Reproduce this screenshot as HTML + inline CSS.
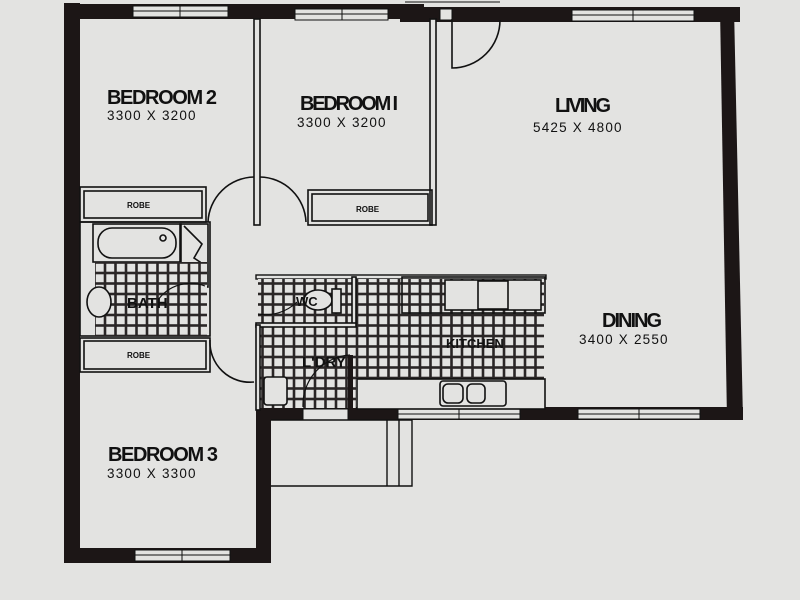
<!DOCTYPE html>
<html><head><meta charset="utf-8"><style>
html,body{margin:0;padding:0;background:#e3e3e1;}
svg{display:block}
.lb{font-family:"Liberation Sans",sans-serif;font-weight:bold;font-stretch:condensed;fill:#111;}
.dm{font-family:"Liberation Sans",sans-serif;fill:#111;font-size:13.5px;letter-spacing:1.2px}
.sm{font-family:"Liberation Sans",sans-serif;font-weight:bold;fill:#111;font-size:8px}
</style></head><body>
<svg width="800" height="600" viewBox="0 0 800 600">
<defs>
<pattern id="tile" x="0" y="0" width="10.5" height="10.5" patternUnits="userSpaceOnUse">
<rect width="10.5" height="10.5" fill="#2a2626"/>
<rect x="1.3" y="1.3" width="7.9" height="7.9" fill="#e3e3e1"/>
</pattern>
</defs>
<rect width="800" height="600" fill="#e3e3e1"/>
<g fill="#1c1616">
<rect x="64" y="3" width="16" height="560"/>
<rect x="64" y="4" width="360" height="15"/>
<rect x="400" y="7" width="340" height="15"/>
<polygon points="720,8 734,8 743,420 727,420"/>
<rect x="350" y="407" width="393" height="13"/>
<rect x="256" y="407" width="100" height="13"/>
<rect x="256" y="407" width="15" height="156"/>
<rect x="64" y="548" width="207" height="15"/>
</g>
<g fill="#e3e3e1" stroke="#111" stroke-width="1">
<rect x="133" y="6" width="95" height="11"/>
<rect x="295" y="9" width="93" height="11"/>
<rect x="440" y="9" width="12" height="11"/>
<rect x="572" y="10" width="122" height="11"/>
<rect x="135" y="550" width="95" height="11"/>
<rect x="303" y="409" width="45" height="11"/>
<rect x="398" y="409" width="122" height="10"/>
<rect x="578" y="409" width="122" height="10"/>
</g>
<g stroke="#111" stroke-width="1">
<line x1="133" y1="11" x2="228" y2="11"/><line x1="180" y1="6" x2="180" y2="17"/>
<line x1="295" y1="14" x2="388" y2="14"/><line x1="342" y1="9" x2="342" y2="20"/>
<line x1="572" y1="15" x2="694" y2="15"/><line x1="633" y1="10" x2="633" y2="21"/>
<line x1="135" y1="555" x2="230" y2="555"/><line x1="182" y1="550" x2="182" y2="561"/>
<line x1="398" y1="414" x2="520" y2="414"/><line x1="459" y1="409" x2="459" y2="419"/>
<line x1="578" y1="414" x2="700" y2="414"/><line x1="639" y1="409" x2="639" y2="419"/>
<line x1="405" y1="2" x2="500" y2="2"/>
</g>
<g fill="none" stroke="#111" stroke-width="1.6">
<rect x="254" y="19" width="6" height="206" fill="#e3e3e1"/>
<rect x="430" y="19" width="6" height="206" fill="#e3e3e1"/>
<rect x="80" y="187" width="126" height="35"/>
<rect x="84" y="191" width="118" height="27"/>
<rect x="308" y="190" width="124" height="35"/>
<rect x="312" y="194" width="116" height="27"/>
<path d="M208 222 A47 47 0 0 1 254 177"/>
<path d="M260 177 A47 47 0 0 1 306 222"/>
<path d="M452 19 V68 A48 48 0 0 0 500 20"/>
<rect x="80" y="222" width="130" height="114"/>
<rect x="93" y="224" width="88" height="38"/>
<rect x="98" y="228" width="78" height="30" rx="14"/>
<circle cx="163" cy="238" r="3"/>
<rect x="180" y="224" width="28" height="63"/>
<path d="M184 226 L202 244 L194 258 L200 262 L186 285"/>
<rect x="80" y="338" width="130" height="34"/>
<rect x="84" y="341" width="122" height="28"/>
<path d="M210 340 A40 40 0 0 0 254 382"/>
</g>
<rect x="95" y="262" width="112" height="74" fill="url(#tile)"/>
<ellipse cx="99" cy="302" rx="12" ry="15" fill="#e3e3e1" stroke="#111" stroke-width="1.6"/>
<path d="M158 300 A40 40 0 0 1 205 286" fill="none" stroke="#111" stroke-width="1.2"/>
<rect x="256" y="275" width="290" height="4" fill="#e3e3e1" stroke="#111" stroke-width="1.4"/>
<rect x="258" y="279" width="286" height="100" fill="url(#tile)"/>
<rect x="258" y="379" width="98" height="29" fill="url(#tile)"/>
<g fill="#e3e3e1" stroke="#111" stroke-width="1.6">
<rect x="352" y="277" width="4" height="48"/>
<rect x="256" y="323" width="100" height="4"/>
<rect x="256" y="325" width="4" height="85"/>
<rect x="402" y="277" width="143" height="36" fill="none"/>
<rect x="445" y="280" width="96" height="30"/>
<rect x="478" y="281" width="30" height="28"/>
<ellipse cx="318" cy="300" rx="14" ry="10"/>
<rect x="332" y="289" width="9" height="24"/>
<rect x="357" y="379" width="188" height="30"/>
<rect x="440" y="381" width="66" height="25" rx="3"/>
<rect x="443" y="384" width="20" height="19" rx="5"/>
<rect x="467" y="384" width="18" height="19" rx="5"/>
<rect x="264" y="377" width="23" height="28" rx="3"/>
</g>
<path d="M297 302 A45 45 0 0 1 258 314" fill="none" stroke="#111" stroke-width="1.2"/>
<path d="M350 355 A50 50 0 0 0 303 407" fill="none" stroke="#111" stroke-width="1.2"/>
<rect x="348" y="355" width="5" height="53" fill="#1c1616"/>
<g fill="none" stroke="#111" stroke-width="1.4">
<path d="M271 420 H412 V486 H271"/>
<line x1="387" y1="420" x2="387" y2="486"/>
<line x1="399" y1="420" x2="399" y2="486"/>
</g>
<text class="lb" x="107" y="104" font-size="20" textLength="110">BEDROOM 2</text>
<text class="dm" x="107" y="120">3300 X 3200</text>
<text class="lb" x="300" y="110" font-size="20" textLength="98">BEDROOM I</text>
<text class="dm" x="297" y="127">3300 X 3200</text>
<text class="lb" x="555" y="112" font-size="20" textLength="56">LIVING</text>
<text class="dm" x="533" y="132">5425 X 4800</text>
<text class="lb" x="602" y="327" font-size="20" textLength="60">DINING</text>
<text class="dm" x="579" y="344">3400 X 2550</text>
<text class="lb" x="108" y="461" font-size="20" textLength="110">BEDROOM 3</text>
<text class="dm" x="107" y="478">3300 X 3300</text>
<text class="sm" x="127" y="208">ROBE</text>
<text class="sm" x="356" y="212">ROBE</text>
<text class="sm" x="127" y="358">ROBE</text>
<text class="lb" x="127" y="308" font-size="15">BATH</text>
<text class="lb" x="296" y="306" font-size="13">WC</text>
<text class="lb" x="302" y="367" font-size="15">L'DRY</text>
<text class="lb" x="446" y="348" font-size="13">KITCHEN</text>
</svg>
</body></html>
